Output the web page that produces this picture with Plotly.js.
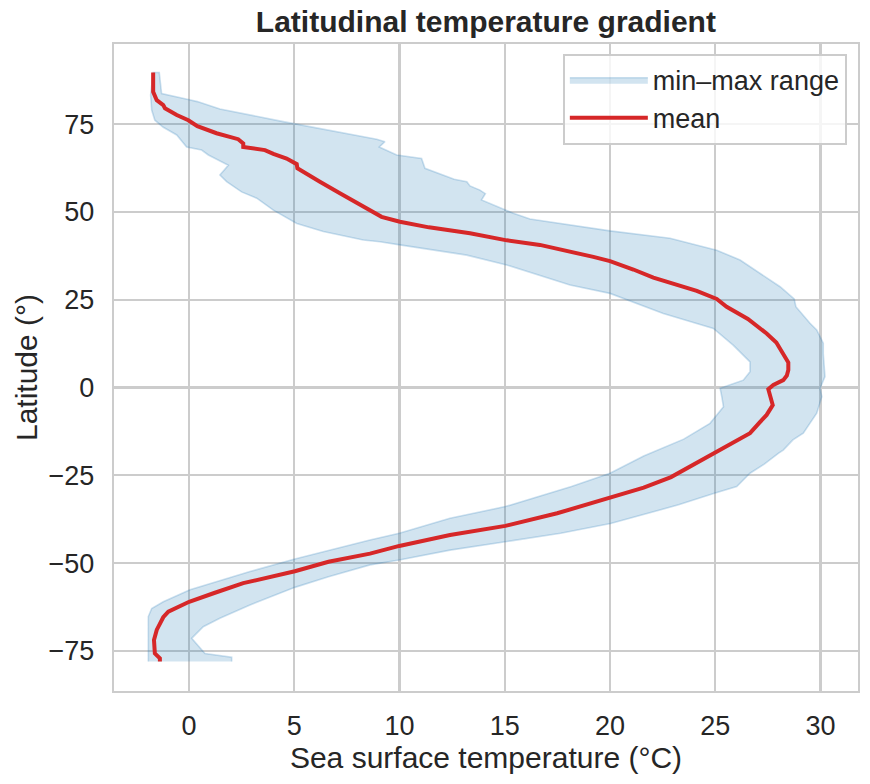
<!DOCTYPE html>
<html>
<head>
<meta charset="utf-8">
<script src="https://cdn.plot.ly/plotly-3.0.1.min.js"></script>
<style>
  html, body { margin: 0; padding: 0; background: #ffffff; }
  #chart { width: 870px; height: 784px; }
</style>
</head>
<body>
<div id="chart"></div>
<script>
// Zonal sea surface temperature statistics, south to north.
// Mean SST (°C) by latitude (°)
const latMean = [-78.0, -77.1, -75.7, -71.9, -69.0, -65.4, -63.8, -61.0, -58.5, -55.7,
  -52.3, -49.6, -47.3, -45.1, -42.0, -39.4, -35.8, -31.3, -28.5, -25.5,
  -22.0, -19.0, -15.9, -13.0, -10.0, -7.8, -5.0, -2.6, -0.5, 0.7,
  2.1, 3.4, 5.0, 7.1, 10.7, 12.8, 15.4, 19.5, 23.0, 25.2,
  27.5, 31.3, 33.6, 36.0, 37.2, 40.6, 41.9, 43.9, 45.6, 47.2,
  48.6, 51.0, 53.9, 55.3, 58.6, 62.4, 63.6, 65.2, 66.5, 67.6,
  68.5, 69.5, 70.7, 72.4, 74.4, 76.1, 77.6, 79.5, 80.4, 81.8,
  84.2, 89.7];
const sstMean = [-1.38, -1.38, -1.62, -1.66, -1.53, -1.22, -0.98, 0.01, 1.2, 2.58,
  5.03, 6.63, 8.6, 9.99, 12.4, 15.03, 17.49, 20.0, 21.6, 22.9,
  23.95, 24.85, 25.78, 26.65, 27.1, 27.44, 27.73, 27.6, 27.52, 27.76,
  28.23, 28.4, 28.47, 28.47, 28.08, 27.9, 27.44, 26.55, 25.54, 25.07,
  24.12, 22.06, 21.11, 20.0, 19.21, 16.67, 15.1, 13.35, 11.4, 10.02,
  9.15, 8.44, 7.49, 7.17, 6.22, 5.15, 5.12, 4.64, 4.01, 3.61,
  2.58, 2.58, 2.34, 1.31, 0.4, -0.03, -0.58, -1.14, -1.22, -1.53,
  -1.7, -1.7];

// Maximum SST (°C) by latitude (°)
const latMax = [-78.0, -76.8, -75.7, -71.4, -68.1, -65.7, -61.9, -56.9, -53.9, -50.5,
  -49.1, -46.3, -43.9, -41.5, -38.7, -33.4, -30.1, -28.2, -24.4, -21.8,
  -18.7, -17.8, -14.9, -13.0, -7.3, -2.6, -0.2, 3.1, 9.7, 12.6,
  16.4, 18.3, 23.0, 25.2, 28.7, 32.5, 36.3, 39.1, 42.5, 44.6,
  48.0, 49.6, 51.3, 53.4, 55.2, 56.2, 57.4, 58.6, 59.3, 62.4,
  65.2, 66.2, 68.5, 70.0, 70.7, 74.9, 75.7, 79.3, 81.4, 82.0,
  83.3, 83.7, 89.7];
const sstMax = [2.03, 2.03, 0.76, 0.13, 0.68, 1.47, 2.9, 5.03, 6.63, 8.6,
  9.99, 12.4, 15.03, 17.66, 20.03, 23.26, 24.96, 26.02, 26.65, 27.33,
  28.01, 28.23, 28.69, 29.18, 29.82, 30.06, 29.98, 30.21, 30.13, 30.13,
  29.82, 29.5, 28.83, 28.75, 28.08, 27.13, 26.18, 25.07, 22.85, 20.0,
  16.2, 15.41, 14.7, 13.9, 14.08, 13.82, 13.35, 13.2, 12.6, 11.21,
  11.05, 9.87, 9.04, 9.31, 8.92, 5.12, 4.48, 1.47, 0.4, -0.03,
  -1.14, -1.3, -1.41];

// Minimum SST (°C) by latitude (°)
const latMin = [-78.0, -65.2, -62.9, -61.0, -57.6, -52.4, -48.8, -46.3, -43.4, -41.5,
  -37.2, -33.9, -28.2, -24.4, -19.5, -14.7, -10.2, -5.5, -2.6, -0.2,
  2.1, 4.5, 7.3, 12.0, 16.8, 21.1, 26.8, 29.2, 34.9, 37.7,
  40.6, 41.5, 42.0, 44.4, 46.7, 50.5, 53.9, 55.7, 58.6, 60.5,
  63.3, 66.2, 67.6, 68.5, 71.9, 74.1, 76.1, 79.0, 83.3, 89.7];
const sstMin = [-1.93, -1.93, -1.77, -1.22, 0.05, 2.9, 5.03, 6.63, 8.6, 9.99,
  12.4, 15.03, 18.17, 20.0, 21.6, 23.5, 24.75, 25.39, 25.31, 25.23,
  26.33, 26.65, 26.65, 25.86, 24.91, 22.53, 20.0, 18.1, 15.09, 13.19,
  10.02, 9.07, 8.28, 6.38, 5.12, 4.01, 3.22, 2.5, 1.79, 1.47,
  1.87, 0.92, 0.6, -0.11, -0.58, -1.22, -1.62, -1.77, -1.82, -1.7];

const xTicks = [0, 5, 10, 15, 20, 25, 30];
const yTicks = [-75, -50, -25, 0, 25, 50, 75];

// Closed outline of the band: max edge going north, min edge coming back south.
const bandX = sstMax.concat(sstMin.slice().reverse());
const bandY = latMax.concat(latMin.slice().reverse());

const textColor = '#262626';
const gridColor = '#cccccc';
const fontFamily = '"Liberation Sans", Arial, Helvetica, sans-serif';

const traces = [
  {
    x: bandX,
    y: bandY,
    type: 'scatter',
    mode: 'lines',
    fill: 'toself',
    fillcolor: 'rgba(31,119,180,0.2)',
    line: { color: 'rgba(31,119,180,0.22)', width: 1.6 },
    name: 'min\u2013max range',
    hoverinfo: 'skip'
  },
  {
    x: sstMean,
    y: latMean,
    type: 'scatter',
    mode: 'lines',
    line: { color: '#d62728', width: 4 },
    name: 'mean'
  }
];

const layout = {
  width: 870,
  height: 784,
  margin: { l: 114, r: 12, t: 44, b: 93 },
  paper_bgcolor: '#ffffff',
  plot_bgcolor: '#ffffff',
  font: { family: fontFamily, color: textColor, size: 27 },
  title: {
    text: '<b>Latitudinal temperature gradient</b>',
    font: { family: fontFamily, size: 30, color: textColor },
    x: 0.5585,
    xanchor: 'center',
    xref: 'container',
    y: 0.972,
    yref: 'container',
    yanchor: 'middle'
  },
  xaxis: {
    range: [-3.56, 31.78],
    tickvals: xTicks,
    ticktext: xTicks.map(String),
    showgrid: true,
    gridcolor: gridColor,
    gridwidth: 2.2,
    zeroline: false,
    showline: true,
    mirror: true,
    linecolor: gridColor,
    linewidth: 2.4,
    ticks: '',
    ticklabelstandoff: 9,
    tickfont: { size: 27, color: textColor },
    title: { text: 'Sea surface temperature (°C)', font: { size: 30, color: textColor }, standoff: 6 }
  },
  yaxis: {
    range: [-86.4, 97.8],
    tickvals: yTicks,
    ticktext: yTicks.map(v => v < 0 ? '\u2212' + Math.abs(v) : String(v)),
    showgrid: true,
    gridcolor: gridColor,
    gridwidth: 2.2,
    zeroline: false,
    showline: true,
    mirror: true,
    linecolor: gridColor,
    linewidth: 2.4,
    ticks: '',
    ticklabelstandoff: 12,
    tickfont: { size: 27, color: textColor },
    title: { text: 'Latitude (°)', font: { size: 30, color: textColor }, standoff: 2 }
  },
  legend: {
    x: 0.985,
    xanchor: 'right',
    y: 0.985,
    yanchor: 'top',
    bgcolor: 'rgba(255,255,255,0.8)',
    bordercolor: gridColor,
    borderwidth: 2,
    font: { size: 27, color: textColor },
    itemwidth: 78
  },
  showlegend: true,
  hovermode: false
};

Plotly.newPlot('chart', traces, layout, { displayModeBar: false, staticPlot: true });
</script>
</body>
</html>
